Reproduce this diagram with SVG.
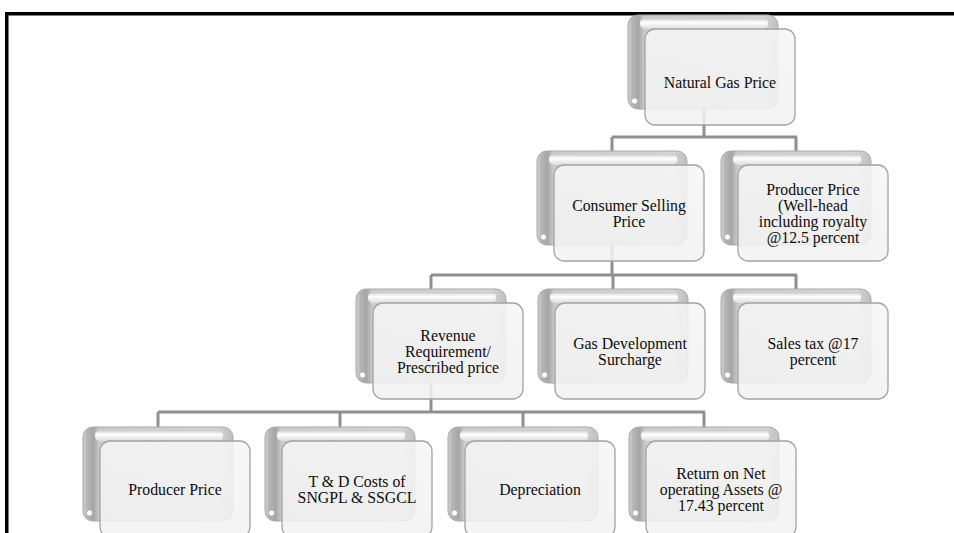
<svg xmlns="http://www.w3.org/2000/svg" width="954" height="533" viewBox="0 0 954 533">
<defs>
<linearGradient id="backH" x1="0" y1="0" x2="1" y2="0">
<stop offset="0" stop-color="#d2d2d2"/>
<stop offset="0.03" stop-color="#b4b4b4"/>
<stop offset="0.07" stop-color="#a6a6a6"/>
<stop offset="0.11" stop-color="#cbcbcb"/>
<stop offset="0.9" stop-color="#d4d4d4"/>
<stop offset="1" stop-color="#bfbfbf"/>
</linearGradient>
<linearGradient id="topHl" x1="0" y1="0" x2="0" y2="1">
<stop offset="0" stop-color="#c8c8c8"/>
<stop offset="0.4" stop-color="#ffffff"/>
<stop offset="1" stop-color="#dcdcdc"/>
</linearGradient>
<linearGradient id="frontG" x1="0" y1="0" x2="0" y2="1">
<stop offset="0" stop-color="#f6f6f6"/>
<stop offset="1" stop-color="#f2f2f2"/>
</linearGradient>
<g id="card">
<rect x="0" y="0" width="150" height="94" rx="10" fill="url(#backH)" stroke="#a9a9a9" stroke-width="1"/>
<rect x="12" y="3" width="128" height="11" rx="5" fill="url(#topHl)"/>
<circle cx="6.5" cy="86" r="3" fill="#ffffff" stroke="#9a9a9a" stroke-width="0.6"/>
<rect x="17" y="14" width="150" height="96" rx="10" fill="url(#frontG)" fill-opacity="0.87" stroke="#a3a3a3" stroke-width="1.3"/>
</g>
</defs>
<style>
.conn { fill: none; stroke: #8f8f8f; stroke-width: 3; }
.lbl { font-family: "Liberation Serif", "Times New Roman", serif; font-size: 15.8px; fill: #0d0d0d; text-anchor: middle; }
.frame { fill: none; stroke: #000; stroke-width: 3.5; }
</style>
<rect x="0" y="0" width="954" height="533" fill="#ffffff"/>
<path class="frame" d="M6.75 533 V13.75 H954"/>

<g id="connectors">
<path class="conn" d="M704 108 V137 M612 137 H797 M612 137 V151 M796 137 V151"/>
<path class="conn" d="M612 245 V275 M431 275 H797 M431 275 V289 M613 275 V289 M796 275 V289"/>
<path class="conn" d="M431 383 V412 M158 412 H705 M158 412 V427 M340 412 V427 M523 412 V427 M704 412 V427"/>
</g>

<g id="n1"><use href="#card" x="628" y="15"/>
<text class="lbl" x="720" y="88">Natural Gas Price</text></g>

<g id="n2"><use href="#card" x="537" y="151"/>
<text class="lbl" x="629" y="210.5">Consumer Selling</text>
<text class="lbl" x="629" y="226.5">Price</text></g>

<g id="n3"><use href="#card" x="721" y="151"/>
<text class="lbl" x="813" y="194.5">Producer Price</text>
<text class="lbl" x="813" y="210.5">(Well-head</text>
<text class="lbl" x="813" y="226.5">including royalty</text>
<text class="lbl" x="813" y="242.5">@12.5 percent</text></g>

<g id="n4"><use href="#card" x="356" y="289"/>
<text class="lbl" x="448" y="340.5">Revenue</text>
<text class="lbl" x="448" y="356.5">Requirement/</text>
<text class="lbl" x="448" y="372.5">Prescribed price</text></g>

<g id="n5"><use href="#card" x="538" y="289"/>
<text class="lbl" x="630" y="348.5">Gas Development</text>
<text class="lbl" x="630" y="364.5">Surcharge</text></g>

<g id="n6"><use href="#card" x="721" y="289"/>
<text class="lbl" x="813" y="348.5">Sales tax @17</text>
<text class="lbl" x="813" y="364.5">percent</text></g>

<g id="n7"><use href="#card" x="83" y="427"/>
<text class="lbl" x="175" y="494.5">Producer Price</text></g>

<g id="n8"><use href="#card" x="265" y="427"/>
<text class="lbl" x="357" y="486.5">T &amp; D Costs of</text>
<text class="lbl" x="357" y="502.5">SNGPL &amp; SSGCL</text></g>

<g id="n9"><use href="#card" x="448" y="427"/>
<text class="lbl" x="540" y="494.5">Depreciation</text></g>

<g id="n10"><use href="#card" x="629" y="427"/>
<text class="lbl" x="721" y="478.5">Return on Net</text>
<text class="lbl" x="721" y="494.5">operating Assets @</text>
<text class="lbl" x="721" y="510.5">17.43 percent</text></g>
</svg>
